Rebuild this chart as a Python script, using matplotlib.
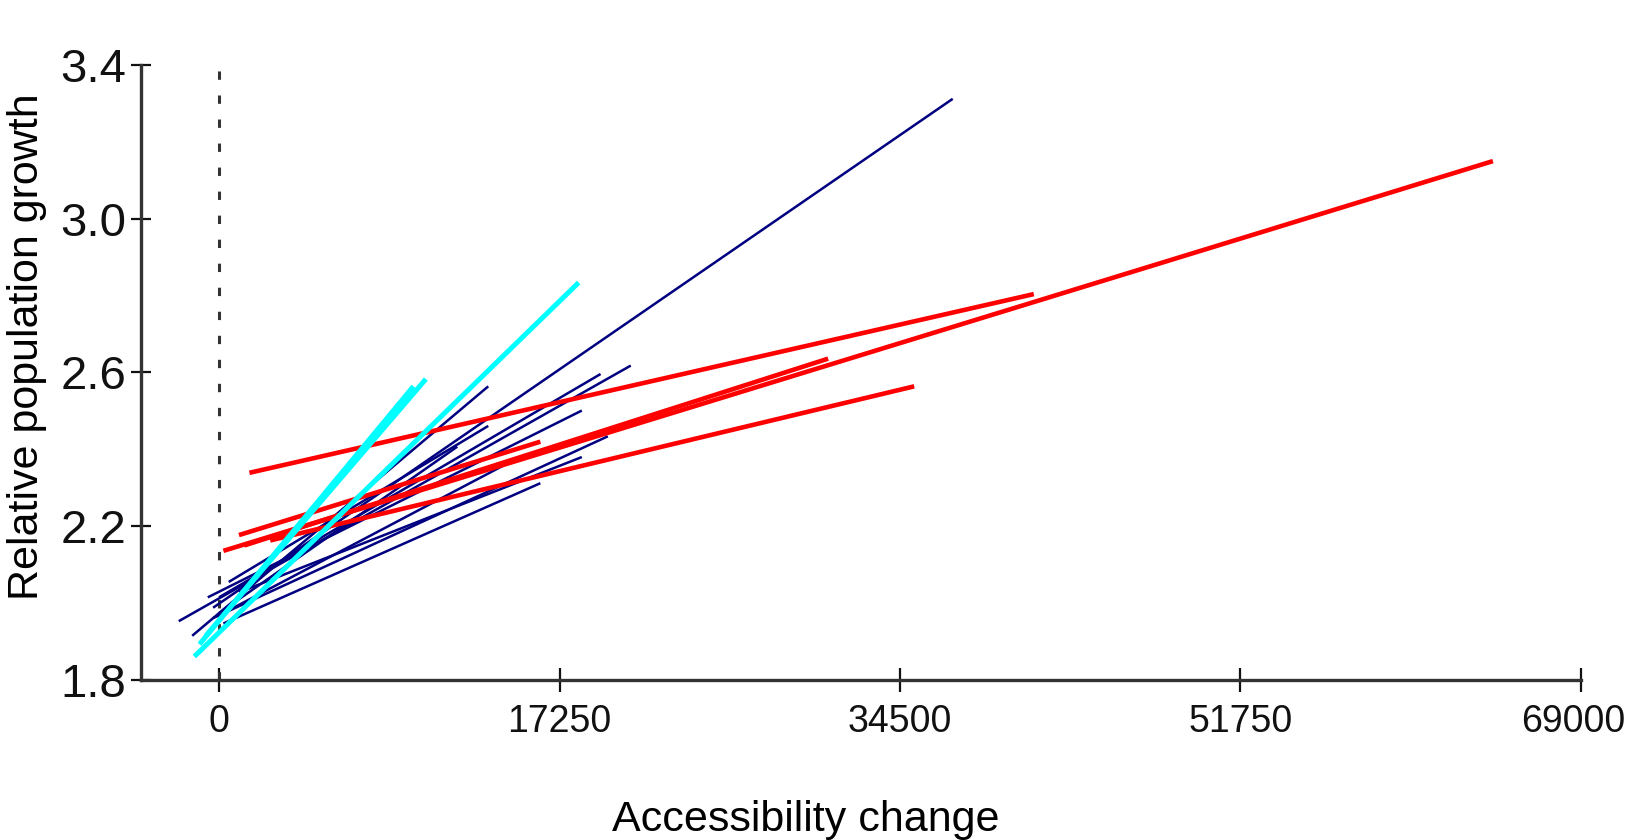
import matplotlib
matplotlib.use('Agg')
import matplotlib.pyplot as plt
from matplotlib.transforms import ScaledTranslation

plt.rcParams['lines.scale_dashes'] = False

# line segments: (start, end)
navy_x = [(-300, 37170), (-2040, 20860), (-1360, 13640), (0, 19330),
          (-300, 19700), (220, 16280), (0, 12070), (490, 13640), (1010, 18380),
          (-570, 18380), (220, 15220)]
navy_y = [(1.988, 3.312), (1.953, 2.618), (1.915, 2.564), (2.015, 2.596),
          (1.961, 2.434), (1.947, 2.312), (1.974, 2.407), (2.055, 2.461), (2.028, 2.380),
          (2.015, 2.501), (1.974, 2.380)]

red_x = [(220, 64540), (1540, 41280), (1280, 30860), (2590, 35220), (1010, 16280)]
red_y = [(2.136, 3.150), (2.339, 2.804), (2.150, 2.636), (2.163, 2.564), (2.177, 2.420)]

cyan_x = [(-1250, 18220), (-670, 10480), (-990, 9850)]
cyan_y = [(1.861, 2.834), (1.915, 2.583), (1.893, 2.564)]

x_ticks = [0, 17250, 34500, 51750, 69000]
y_ticks = [1.8, 2.2, 2.6, 3.0, 3.4]

fig = plt.figure(figsize=(16.29, 8.40), dpi=100)
ax = fig.add_axes([0.0866, 0.1905, 0.8839, 0.7321])

for xs, ys in zip(navy_x, navy_y):
    ax.plot(xs, ys, color='#000080', lw=1.8, solid_capstyle='butt', zorder=3)
for xs, ys in zip(red_x, red_y):
    ax.plot(xs, ys, color='#ff0000', lw=3.3, solid_capstyle='butt', zorder=4)
for xs, ys in zip(cyan_x, cyan_y):
    ax.plot(xs, ys, color='#00ffff', lw=3.6, solid_capstyle='butt', zorder=5)

ax.axvline(0, color='#333333', lw=2.2, linestyle=(0, (6, 11.3)), zorder=2)

ax.set_xlim(-3950, 69000)
ax.set_ylim(1.8, 3.4)
ax.set_xticks(x_ticks)
ax.set_xticklabels([str(v) for v in x_ticks])
ax.set_yticks(y_ticks)
ax.set_yticklabels(['%.1f' % v for v in y_ticks])

for side in ['top', 'right']:
    ax.spines[side].set_visible(False)
for side in ['left', 'bottom']:
    ax.spines[side].set_color('#333333')
    ax.spines[side].set_linewidth(2.4)

ax.tick_params(axis='x', direction='inout', length=17, width=1.6, pad=9,
               colors='#111111', labelsize=27)
ax.tick_params(axis='y', direction='inout', length=15, width=1.6, pad=3,
               colors='#111111', labelsize=34)
for lab in ax.get_xticklabels() + ax.get_yticklabels():
    lab.set_family(['Liberation Sans', 'DejaVu Sans'])

# last label sits at the right edge; nudge it inside the figure
last = ax.get_xticklabels()[-1]
last.set_transform(last.get_transform() + ScaledTranslation(-8 / 100, 0, fig.dpi_scale_trans))

fig.text(806 / 1629, 9 / 840, 'Accessibility change', ha='center', va='baseline',
         fontsize=31, family=['Liberation Sans', 'DejaVu Sans'])
fig.text(38 / 1629, 1 - 347 / 840, 'Relative population growth', rotation=90,
         rotation_mode='anchor', ha='center', va='baseline',
         fontsize=31, family=['Liberation Sans', 'DejaVu Sans'])

fig.savefig('out.png', dpi=100)
